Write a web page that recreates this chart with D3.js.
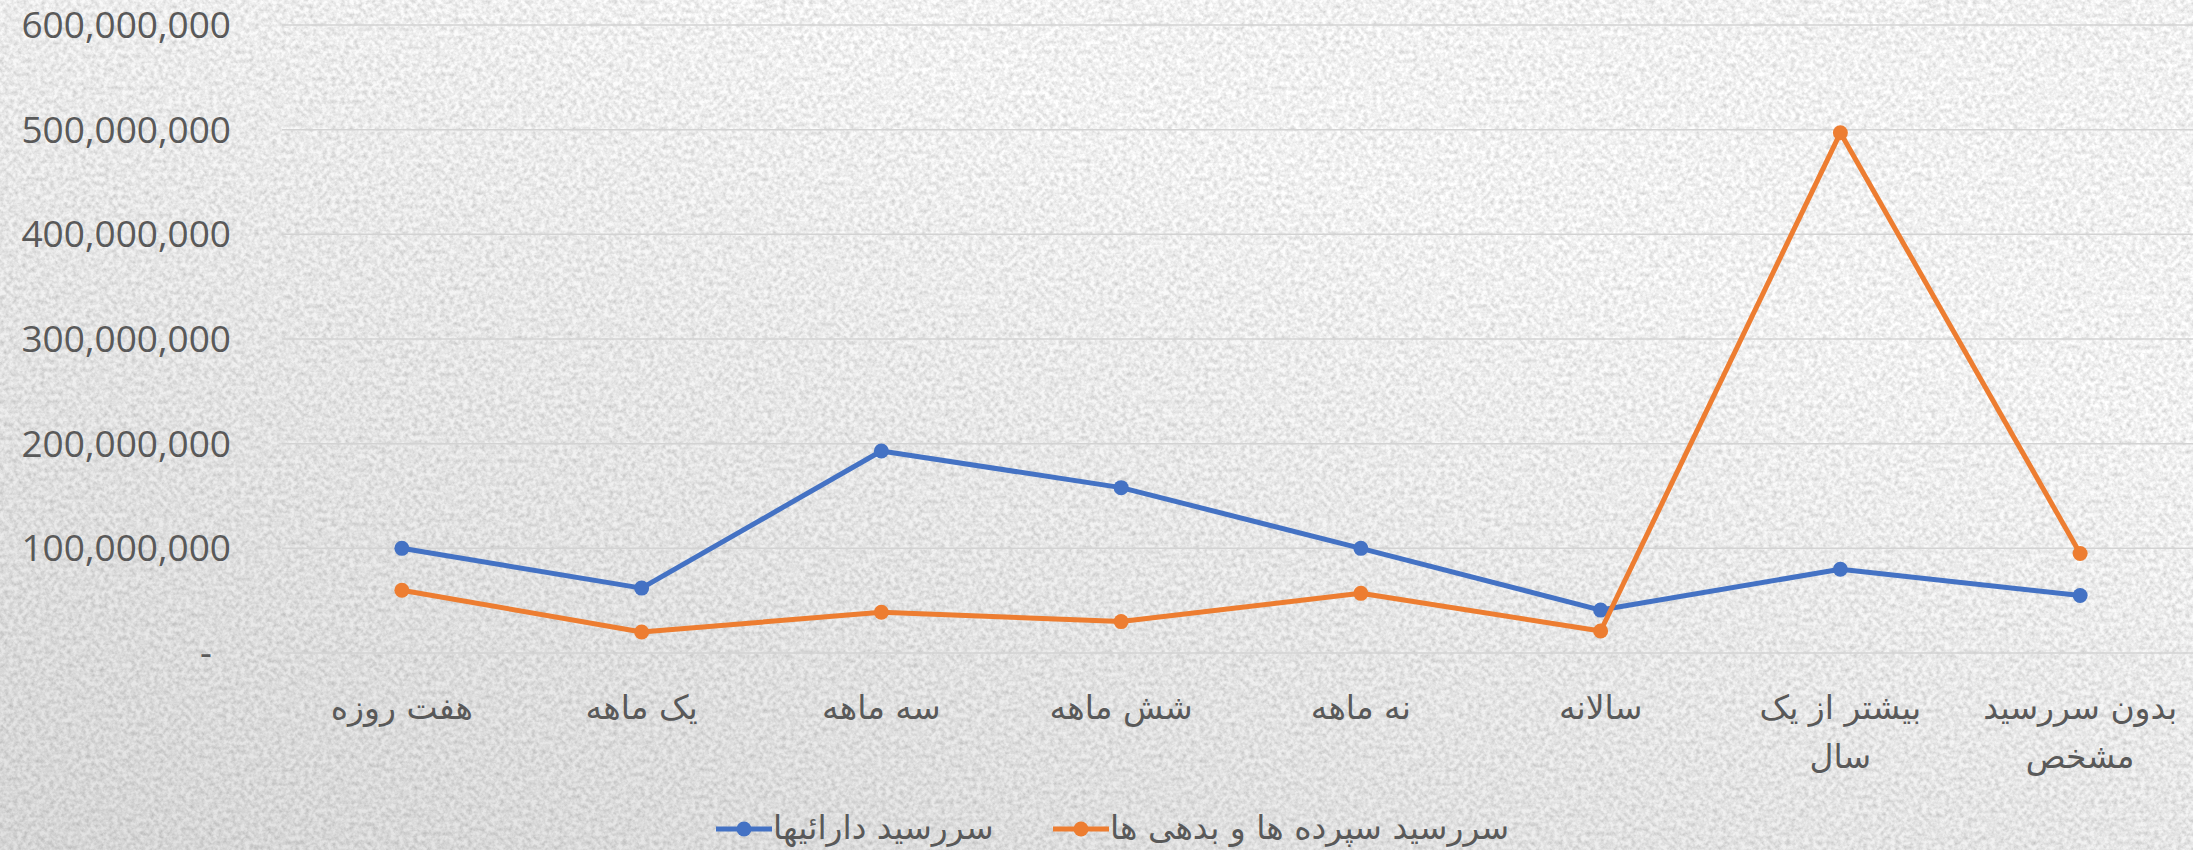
<!doctype html>
<html>
  <head>
    <meta charset="utf-8">
    <title>سررسید</title>
    <script src="https://d3js.org/d3.v7.min.js"></script>
    <style type="text/css">
      body { margin: 0; background-color: #e0e0e0; overflow: hidden; }
      svg { display: block; }
    </style>
  </head>
  <body>
    <script>
// categories (maturity buckets) and the two series
var categories = [["هفت روزه"], ["یک ماهه"], ["سه ماهه"], ["شش ماهه"], ["نه ماهه"], ["سالانه"], ["بیشتر از یک", "سال"], ["بدون سررسید", "مشخص"]];
var assets = [100000000, 62000000, 193000000, 158000000, 100000000, 41000000, 80000000, 55000000];
var liabilities = [60000000, 20000000, 39000000, 30000000, 57000000, 21000000, 497000000, 95000000];
var seriesNames = ["سررسید دارائیها", "سررسید سپرده ها و بدهی ها"];
var seriesColors = ["#4472C4", "#ED7D31"];
var yTicks = [0, 100000000, 200000000, 300000000, 400000000, 500000000, 600000000];

var w = 2193, h = 850;
var plotLeft = 282, plotRight = 2200, plotTop = 25, plotBottom = 653;

var svg = d3.select("body").append("svg")
  .attr("width", w)
  .attr("height", h);

// textured grey background
var defs = svg.append("defs");
var f = defs.append("filter").attr("id", "grain")
  .attr("x", 0).attr("y", 0).attr("width", "100%").attr("height", "100%");
f.append("feTurbulence").attr("type", "fractalNoise")
  .attr("baseFrequency", 0.22).attr("numOctaves", 3).attr("seed", 7);
f.append("feColorMatrix").attr("type", "matrix")
  .attr("values", "0.6 0 0 0 0.58  0.6 0 0 0 0.58  0.6 0 0 0 0.58  0 0 0 0 1");
svg.append("rect").attr("width", w).attr("height", h).attr("filter", "url(#grain)");

var shade = defs.append("linearGradient").attr("id", "shade")
  .attr("x1", 0).attr("y1", 1).attr("x2", 0.6).attr("y2", 0.2);
shade.append("stop").attr("offset", 0).attr("stop-color", "#000").attr("stop-opacity", 0.12);
shade.append("stop").attr("offset", 1).attr("stop-color", "#000").attr("stop-opacity", 0);
svg.append("rect").attr("width", w).attr("height", h).style("fill", "url(#shade)");

var x = d3.scalePoint()
  .domain(d3.range(categories.length))
  .range([plotLeft, plotRight])
  .padding(0.5);

var y = d3.scaleLinear()
  .domain([0, 600000000])
  .range([plotBottom, plotTop]);

// gridlines
svg.append("g").selectAll("line")
  .data(yTicks)
  .enter().append("line")
  .attr("x1", plotLeft).attr("x2", plotRight)
  .attr("y1", function(d) { return y(d); })
  .attr("y2", function(d) { return y(d); })
  .style("stroke", "#d3d3d3")
  .style("stroke-width", 1.5);

// y axis labels
var yAxis = d3.axisLeft(y)
  .tickValues(yTicks)
  .tickSize(0)
  .tickPadding(0)
  .tickFormat(function(d) { return d === 0 ? "-" : d3.format(",")(d); });
var gy = svg.append("g").attr("transform", "translate(231,0)").call(yAxis);
gy.select(".domain").remove();
gy.selectAll("text")
  .style("font-family", "'Open Sans', sans-serif")
  .style("font-size", "37px")
  .style("fill", "#595959")
  .attr("dy", "0.34em")
  .attr("dx", function(d) { return d === 0 ? -19 : 0; });

// x axis labels
var xl = svg.append("g").selectAll("text")
  .data(categories)
  .enter().append("text")
  .attr("x", function(d, i) { return x(i); })
  .attr("y", 719)
  .attr("text-anchor", "middle")
  .style("font-family", "'DejaVu Sans', sans-serif")
  .style("font-size", "33px")
  .style("fill", "#595959");
xl.selectAll("tspan")
  .data(function(d, i) { return d.map(function(t) { return {t: t, i: i}; }); })
  .enter().append("tspan")
  .attr("x", function(d) { return x(d.i); })
  .attr("dy", function(d, j) { return j === 0 ? 0 : 49; })
  .text(function(d) { return d.t; });

// lines
var line = d3.line()
  .x(function(d, i) { return x(i); })
  .y(function(d) { return y(d); });

[assets, liabilities].forEach(function(s, k) {
  svg.append("path")
    .datum(s)
    .attr("d", line)
    .style("fill", "none")
    .style("stroke", seriesColors[k])
    .style("stroke-width", 5)
    .style("stroke-linejoin", "round");
  svg.append("g").selectAll("circle")
    .data(s)
    .enter().append("circle")
    .attr("cx", function(d, i) { return x(i); })
    .attr("cy", function(d) { return y(d); })
    .attr("r", 7.5)
    .style("fill", seriesColors[k]);
});

// legend
var legendX = [716, 1053];
var leg = svg.append("g").selectAll("g")
  .data(seriesNames)
  .enter().append("g")
  .attr("transform", function(d, i) { return "translate(" + legendX[i] + ",829)"; });
leg.append("line")
  .attr("x1", 0).attr("x2", 56)
  .style("stroke", function(d, i) { return seriesColors[i]; })
  .style("stroke-width", 5);
leg.append("circle")
  .attr("cx", 28).attr("r", 7.5)
  .style("fill", function(d, i) { return seriesColors[i]; });
leg.append("text")
  .attr("x", 57)
  .attr("dy", "0.3em")
  .style("font-family", "'DejaVu Sans', sans-serif")
  .style("font-size", "33px")
  .style("fill", "#595959")
  .text(function(d) { return d; });
    </script>
  </body>
</html>
